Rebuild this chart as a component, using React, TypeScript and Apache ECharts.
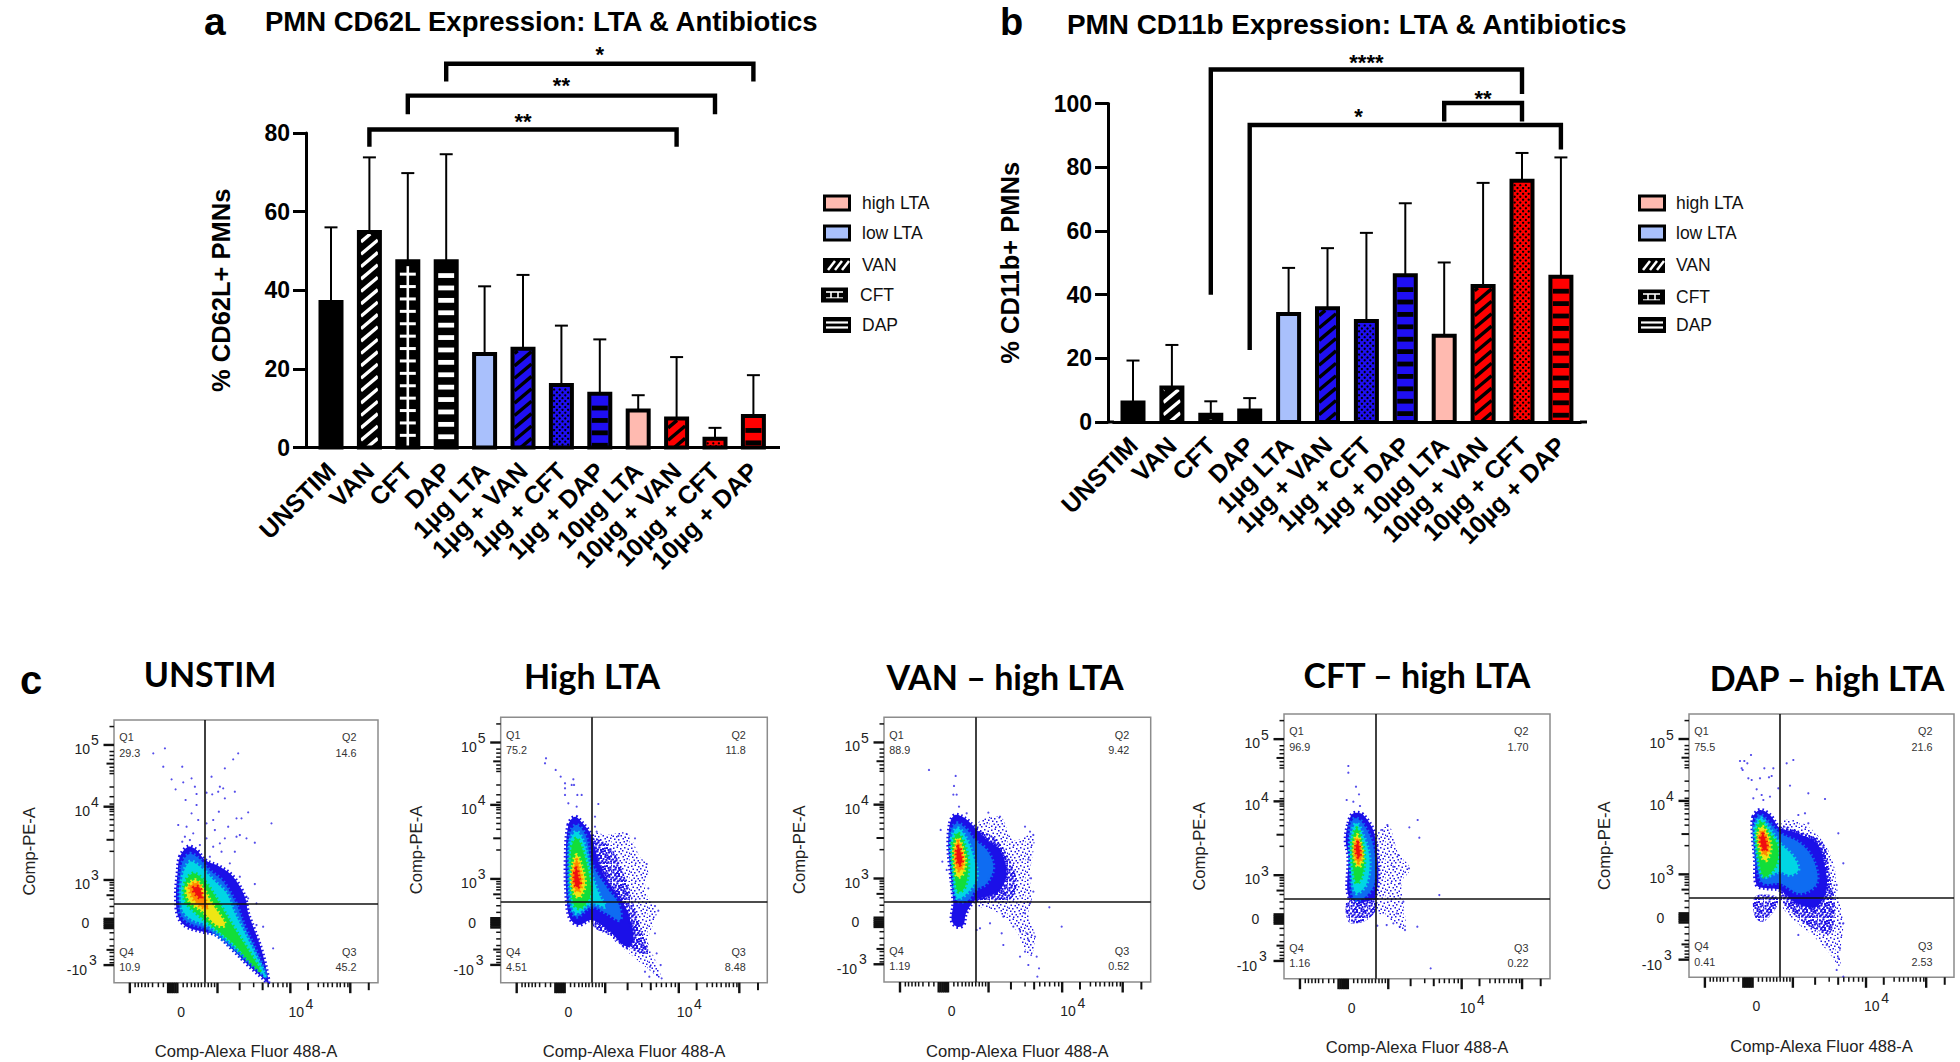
import React, { useEffect, useRef } from "react";
import * as echarts from "echarts";

const FONT = "Liberation Sans";
const HEAD_FONT = "Lato";

const categories = ["UNSTIM", "VAN", "CFT", "DAP", "1µg LTA", "1µg + VAN", "1µg + CFT", "1µg + DAP", "10µg LTA", "10µg + VAN", "10µg + CFT", "10µg + DAP"];
const cd62lMeans = [37, 54.8, 47.4, 47.4, 23.8, 25.1, 15.9, 13.7, 9.4, 7.4, 2.2, 8];
const cd62lErrorTops = [56, 73.8, 69.8, 74.6, 41, 43.9, 31, 27.5, 13.3, 23, 5, 18.4];
const cd11bMeans = [6.1, 10.8, 2.3, 3.6, 33.9, 35.7, 31.7, 46.1, 27.1, 42.7, 75.8, 45.6];
const cd11bErrorTops = [19.3, 24.2, 6.5, 7.5, 48.4, 54.6, 59.4, 68.7, 50.1, 75.1, 84.5, 83.1];
const barFills = ["#000000", "#000000", "#000000", "#000000", "#A9C0FC", "#1F0FF2", "#1F0FF2", "#1F0FF2", "#FFBAB0", "#FF0000", "#FF0000", "#FF0000"];
const barPatterns = ["none", "van", "cft", "dap", "none", "van", "cft", "dap", "none", "van", "cft", "dap"];

// from, to, top, left end, right end, star position, star height, stars
const cd62lBrackets = [
  [1, 9, 80.9, 76.5, 76.5, 5, 82.8, "**"],
  [2, 10, 89.5, 84.8, 84.8, 6, 92, "**"],
  [3, 11, 97.6, 93.1, 93.1, 7, 99.9, "*"],
];
const cd11bBrackets = [
  [2, 10, 110.7, 40, 103, 6, 113, "****"],
  [3, 11, 93.3, 22.6, 85.6, 5.8, 95.9, "*"],
  [8, 10, 100.2, 94.4, 94.4, 9, 101.5, "**"],
];
const legendNames = ["high LTA", "low LTA", "VAN", "CFT", "DAP"];

// Flow panels: channel positions, as [x, y] in the panel's display channels
const flowLevelColors = ["#1B10E8", "#0E6CF2", "#00D6E4", "#12DE3A", "#EEE614", "#FF8A00", "#F01010"];

const panel1Contours: [number, number[][]][] = [
  [0, [[540,620],[565,590],[590,600],[615,630],[660,650],[700,680],[735,740],[745,790],[760,830],[785,900],[800,960],[805,998],[790,985],[745,945],[700,900],[650,855],[610,845],[560,830],[535,800],[528,740],[533,670]]],
  [1, [[544,650],[568,612],[596,625],[628,660],[670,695],[708,760],[735,830],[770,905],[798,978],[770,958],[720,915],[668,868],[615,835],[565,817],[540,785]]],
  [2, [[548,680],[570,635],[600,650],[640,690],[680,730],[700,780],[730,840],[765,910],[795,975],[770,950],[720,905],[670,860],[620,825],[570,805],[545,770]]],
  [3, [[555,700],[580,670],[610,690],[640,730],[670,780],[700,830],[745,900],[780,960],[750,935],[700,880],[640,830],[590,790],[555,750]]],
  [4, [[560,715],[585,690],[610,715],[635,760],[660,795],[675,825],[650,825],[610,785],[570,755]]],
  [5, [[570,710],[595,700],[610,740],[625,770],[605,770],[580,745]]],
  [6, [[580,715],[598,712],[605,745],[590,735]]],
];
const panel1Sparse: number[][][] = [];
const panel1Dense: number[][][] = [];
const panel1Dots = [[460,310],[495,295],[490,350],[547,350],[515,388],[550,397],[575,385],[527,418],[557,450],[590,432],[585,410],[635,380],[620,428],[637,433],[655,425],[660,410],[670,415],[675,445],[700,328],[715,310],[675,355],[705,425],[745,487],[815,520],[710,505],[725,505],[657,485],[640,510],[620,520],[590,465],[595,510],[575,490],[535,525],[560,530],[547,575],[580,550],[620,565],[645,540],[660,580],[675,565],[685,530],[710,560],[720,555],[740,565],[765,578],[705,605],[665,605],[640,590],[720,680],[765,702],[740,740],[770,760],[790,830],[820,895],[770,825],[555,560],[570,570],[600,585],[630,620],[690,640],[745,745],[775,870]];

const panel2Contours: [number, number[][]][] = [
  [0, [[505,375],[525,350],[548,370],[573,405],[600,500],[640,570],[670,610],[690,660],[700,720],[680,740],[625,690],[575,660],[535,675],[510,655],[500,600],[497,480]]],
  [1, [[510,400],[530,375],[558,410],[575,490],[625,570],[655,610],[660,660],[620,640],[575,620],[530,650],[510,620],[505,500]]],
  [2, [[512,420],[530,395],[552,430],[574,520],[600,590],[615,620],[575,610],[530,640],[514,610],[508,500]]],
  [3, [[515,440],[530,415],[548,450],[570,540],[570,590],[540,625],[520,610],[512,520]]],
  [4, [[520,490],[530,465],[542,490],[555,550],[540,590],[525,585],[515,540]]],
  [5, [[522,505],[530,480],[538,505],[545,550],[535,575],[524,565],[518,535]]],
  [6, [[524,520],[530,505],[535,530],[540,550],[532,562],[524,548]]],
];
const panel2Sparse = [[[575,400],[620,405],[680,400],[720,470],[745,500],[735,570],[750,600],[770,640],[745,720],[770,790],[785,840],[760,820],[700,770],[640,720],[575,670],[575,640]]];
const panel2Dense = [[[575,420],[630,440],[670,520],[700,610],[720,680],[745,760],[700,750],[640,710],[575,670]]];
const panel2Dots = [[438,175],[435,190],[467,210],[482,230],[495,250],[495,265],[495,285],[515,255],[520,238],[522,255],[532,285],[545,285],[505,310],[530,320],[595,312],[585,350],[585,380],[590,395],[680,402],[705,415],[655,408],[740,492],[745,565],[765,618],[775,632],[765,700],[770,760],[782,795],[785,835],[772,825],[750,800],[735,815],[748,830]];

const panel3Contours: [number, number[][]][] = [
  [0, [[510,370],[525,345],[555,355],[586,385],[620,420],[660,450],[680,520],[660,570],[620,590],[586,600],[558,640],[550,675],[530,680],[515,660],[520,610],[512,520],[505,440]]],
  [1, [[512,400],[530,370],[556,385],[584,420],[620,450],[640,500],[620,550],[586,570],[565,600],[530,600],[518,530]]],
  [2, [[515,415],[532,385],[556,410],[580,470],[590,530],[565,575],[532,595],[522,540],[514,470]]],
  [3, [[518,430],[533,400],[552,430],[565,490],[555,560],[535,575],[524,530],[517,470]]],
  [4, [[523,445],[534,415],[549,450],[556,490],[546,525],[532,530],[524,490]]],
  [5, [[527,450],[535,425],[545,455],[550,490],[543,510],[533,510],[527,480]]],
  [6, [[530,455],[536,440],[545,470],[546,485],[538,495],[531,480]]],
];
const panel3Sparse = [[[586,380],[660,350],[700,420],[760,405],[750,520],[755,600],[745,640],[765,710],[750,770],[700,680],[640,630],[586,610]]];
const panel3Dense = [[[586,400],[640,410],[690,480],[710,550],[690,600],[640,605],[586,600]]];
const panel3Dots = [[447,210],[527,228],[522,258],[520,284],[530,284],[537,320],[482,390],[487,485],[500,510],[560,340],[625,338],[660,350],[735,380],[750,395],[760,405],[745,478],[753,535],[760,575],[808,622],[845,680],[665,700],[600,685],[590,690],[630,670],[670,735],[720,770],[735,755],[745,795],[770,770],[777,805],[772,830],[740,700],[765,710],[700,680],[720,690],[745,720],[735,640],[750,610],[670,650]];

const panel4Contours: [number, number[][]][] = [
  [0, [[505,520],[520,490],[550,495],[585,560],[585,740],[510,745],[505,620],[497,570]]],
  [1, [[510,530],[525,505],[548,520],[580,590],[583,700],[550,745],[520,745],[512,640]]],
  [2, [[513,560],[528,520],[545,545],[568,620],[560,700],[530,730],[518,700],[510,620]]],
  [3, [[517,570],[530,535],[545,570],[553,630],[545,680],[530,700],[520,660],[515,610]]],
  [4, [[521,590],[531,555],[544,590],[548,625],[538,650],[527,640]]],
  [5, [[524,595],[532,565],[542,595],[545,620],[536,638],[527,625]]],
  [6, [[528,590],[533,578],[539,600],[538,622],[531,615]]],
];
const panel4Sparse = [[[585,570],[625,525],[655,610],[690,655],[665,700],[675,840],[620,800],[585,780]]];
const panel4Dense = [[[505,745],[585,745],[585,785],[550,815],[505,815]]];
const panel4Dots = [[505,348],[505,368],[528,410],[537,433],[500,450],[520,455],[540,468],[622,525],[607,540],[688,532],[713,510],[718,563],[687,655],[778,735],[712,830],[752,955],[675,840],[660,830],[640,820],[620,825],[592,827],[655,615],[640,650],[660,700],[670,755],[650,790]];

const panel5Contours: [number, number[][]][] = [
  [0, [[580,350],[600,330],[630,345],[660,385],[700,395],[770,430],[790,480],[800,560],[770,620],[710,610],[660,570],[620,565],[590,555],[585,480],[578,400]]],
  [1, [[583,370],[600,345],[625,365],[660,400],[720,430],[760,480],[770,550],[720,580],[660,550],[610,550],[595,520],[586,450]]],
  [2, [[585,385],[602,355],[625,380],[660,430],[700,470],[715,510],[690,525],[660,515],[612,530],[597,490]]],
  [3, [[590,390],[604,365],[625,395],[650,430],[655,470],[640,510],[612,530],[597,480]]],
  [4, [[595,400],[607,380],[625,410],[632,445],[620,480],[610,478],[598,440]]],
  [5, [[598,410],[608,392],[622,420],[626,445],[615,465],[603,445]]],
  [6, [[602,415],[609,403],[618,425],[620,445],[612,452],[604,435]]],
];
const panel5Sparse = [[[660,370],[720,365],[785,420],[820,490],[835,590],[850,670],[840,760],[840,800],[800,750],[750,700],[690,650],[660,600]]];
const panel5Dense = [[[660,385],[730,400],[790,430],[810,530],[825,620],[810,700],[770,690],[720,660],[670,610],[660,580]], [[585,590],[650,590],[650,620],[610,665],[585,650]]];
const panel5Dots = [[573,165],[540,183],[553,183],[562,190],[545,205],[548,210],[613,205],[640,205],[627,232],[635,228],[565,235],[575,240],[600,235],[590,268],[605,285],[580,295],[610,300],[630,290],[655,265],[690,257],[680,190],[700,180],[745,280],[795,297],[715,345],[735,340],[745,370],[835,400],[850,490],[830,555],[840,670],[850,670],[840,745],[830,810],[835,775],[850,830],[715,705],[800,735]];

const panelHeadings = ["UNSTIM", "High LTA", "VAN – high LTA", "CFT – high LTA", "DAP – high LTA"];
const panelQuadrants = [
  ["29.3", "14.6", "45.2", "10.9"],
  ["75.2", "11.8", "8.48", "4.51"],
  ["88.9", "9.42", "0.52", "1.19"],
  ["96.9", "1.70", "0.22", "1.16"],
  ["75.5", "21.6", "2.53", "0.41"],
];

// tick positions as fractions of the shared biexponential display, with their lengths
const yTickLong = [0.905, 0.67, 0.391, 0.067, 0.243, 0.236, 0.229, 0.222, 0.215, 0.208];
const yTickMid = [0.834, 0.544, 0.333, 0.125];
const yTickShort = [0.975, 0.88, 0.865, 0.85, 0.82, 0.806, 0.796, 0.745, 0.708, 0.68, 0.66, 0.652, 0.639, 0.621, 0.6, 0.578, 0.5, 0.381, 0.372, 0.36, 0.35, 0.318, 0.29, 0.265, 0.19, 0.165, 0.14, 0.115, 0.1, 0.088, 0.076];
const xTickLong = [0.06, 0.392, 0.668, 0.895, 0.205, 0.212, 0.219, 0.226, 0.233, 0.24];
const xTickMid = [0.476, 0.563, 0.735, 0.965];
const xTickShort = [0.08, 0.092, 0.105, 0.118, 0.13, 0.146, 0.168, 0.187, 0.262, 0.277, 0.293, 0.306, 0.319, 0.331, 0.344, 0.357, 0.369, 0.381, 0.529, 0.584, 0.603, 0.621, 0.64, 0.655, 0.774, 0.794, 0.81, 0.827, 0.845, 0.857, 0.873, 0.886];

const speckleA = [[2,3],[9,1],[16,4],[24,2],[31,5],[5,9],[13,10],[20,8],[28,11],[34,13],[1,15],[8,16],[17,14],[25,17],[32,19],[4,21],[12,22],[21,20],[29,24],[35,26],[7,27],[15,28],[23,26],[2,31],[10,33],[18,32],[27,31],[33,34]];
const speckleB = [[6,5],[12,6],[20,3],[27,6],[34,1],[1,10],[10,13],[16,9],[23,12],[31,9],[5,18],[12,18],[21,16],[28,20],[35,17],[0,25],[8,23],[17,24],[25,22],[32,29],[4,29],[13,31],[21,30],[29,35],[7,35],[16,35],[24,33],[35,31]];

function makeTile(dots: number[][], size: number) {
  const c = document.createElement("canvas");
  c.width = 18; c.height = 18;
  const g = c.getContext("2d")!;
  g.fillStyle = "#2316E6";
  dots.forEach(([x, y]) => g.fillRect(x / 2, y / 2, size, size));
  return c.toDataURL();
}

const renderHatch = (params: any, api: any) => {
  const i = api.value(0);
  const v = api.value(1);
  const top = api.coord([i, v]);
  const base = api.coord([i, 0]);
  const W = 21;
  const x0 = top[0] - W / 2, x1 = top[0] + W / 2;
  const y0 = top[1], y1 = base[1];
  const kind = barPatterns[i];
  const dark = barFills[i] === "#000000";
  const fg = dark ? "#FFFFFF" : "#000000";
  const ch: any[] = [];
  const band = (ya: number, yb: number, xa = x0 + 2.5, xb = x1 - 2.5) => {
    const a = Math.max(ya, y0 + 2), b = Math.min(yb, y1);
    if (b > a) ch.push({ type: "rect", shape: { x: xa, y: a, width: xb - xa, height: b - a }, style: { fill: fg } });
  };
  if (kind === "dap") {
    for (let y = y0 + 12; y < y1; y += 12.4) band(y, y + 4.8);
  } else if (kind === "cft" && dark) {
    for (let y = y0 + 11.5; y < y1; y += 12.4) band(y, y + 3);
    band(y0 + 5, y1, top[0] - 1.3, top[0] + 1.3);
  } else if (kind === "cft") {
    let row = 0;
    for (let y = y0 + 4.5; y < y1 - 1; y += 2.9, row++) {
      for (let x = x0 + 3.2 + (row % 2 ? 2.8 : 0); x < x1 - 2.5; x += 5.6) {
        ch.push({ type: "circle", shape: { cx: x, cy: y, r: 1.15 }, style: { fill: "#000000" } });
      }
    }
  } else if (kind === "van") {
    const slope = 0.84;
    const xa = x0 + 2, xb = x1 - 2;
    for (let c = y1 + 30; c > y0; c -= 12.4) {
      let sx = xa, sy = c, ex = xb, ey = c - slope * (xb - xa);
      if (sy > y1) { sx = xa + (sy - y1) / slope; sy = y1; }
      if (ey < y0 + 2) { ex = xa + (c - y0 - 2) / slope; ey = y0 + 2; }
      if (sx < ex && sy > y0 + 2) {
        ch.push({ type: "line", shape: { x1: sx, y1: sy, x2: ex, y2: ey }, style: { stroke: fg, lineWidth: 3.4 } });
      }
    }
  }
  ch.push({ type: "rect", shape: { x: x0, y: y0, width: W, height: y1 - y0 }, style: { fill: "none", stroke: "#000000", lineWidth: 4 } });
  return { type: "group", children: ch };
};

const renderError = (params: any, api: any) => {
  const i = api.value(0);
  const a = api.coord([i, api.value(1)]);
  const b = api.coord([i, api.value(2)]);
  return {
    type: "group",
    children: [
      { type: "line", shape: { x1: a[0], y1: a[1], x2: b[0], y2: b[1] }, style: { stroke: "#000", lineWidth: 2 } },
      { type: "line", shape: { x1: b[0] - 6.5, y1: b[1], x2: b[0] + 6.5, y2: b[1] }, style: { stroke: "#000", lineWidth: 2 } },
    ],
  };
};

const renderBracket = (params: any, api: any) => {
  const from = api.value(0), to = api.value(1);
  const pLeft = api.coord([from, api.value(3)]);
  const pTopL = api.coord([from, api.value(2)]);
  const pTopR = api.coord([to, api.value(2)]);
  const pRight = api.coord([to, api.value(4)]);
  const step = (pTopR[0] - pTopL[0]) / (to - from);
  const starX = pTopL[0] + (api.value(5) - from) * step;
  const starY = api.coord([from, api.value(6)])[1];
  return {
    type: "group",
    children: [
      { type: "polyline", shape: { points: [pLeft, pTopL, pTopR, pRight] }, style: { fill: "none", stroke: "#000", lineWidth: 4.4, lineJoin: "miter" } },
      { type: "text", x: starX, y: starY, style: { text: api.value(7), fill: "#000", fontFamily: FONT, fontWeight: "bold", fontSize: 22, align: "center", verticalAlign: "middle" } },
    ],
  };
};

function barSet(g: number, means: number[], tops: number[], brackets: any[], name: string) {
  return [
    {
      type: "bar", name, xAxisIndex: g, yAxisIndex: g, barWidth: 21, z: 2,
      data: means.map((v, i) => ({ value: v, itemStyle: { color: barFills[i] } })),
    },
    { type: "custom", name: name + " error", xAxisIndex: g, yAxisIndex: g, z: 1, renderItem: renderError, encode: { x: 0, y: 1 }, data: means.map((v, i) => [i, v, tops[i]]) },
    { type: "custom", name: name + " pattern", xAxisIndex: g, yAxisIndex: g, z: 3, renderItem: renderHatch, encode: { x: 0, y: 1 }, data: means.map((v, i) => [i, v]) },
    { type: "custom", name: name + " brackets", xAxisIndex: g, yAxisIndex: g, z: 4, renderItem: renderBracket, clip: false, encode: { x: 0, y: 2 }, dimensions: ["from", "to", "top", "l", "r", "sx", "sy", { name: "stars", type: "ordinal" }], data: brackets },
  ];
}

function legendGraphics(swatchX: number, textX: number, cftDx: number, ys: number[]) {
  const out: any[] = [];
  const box = (x: number, y: number, w: number, h: number, fill: string, lw = 3) => ({ type: "rect", shape: { x, y, width: w, height: h }, style: { fill, stroke: "#000", lineWidth: lw } });
  const ln = (x1: number, y1: number, x2: number, y2: number, w = 2) => ({ type: "line", shape: { x1, y1, x2, y2 }, style: { stroke: "#fff", lineWidth: w } });
  legendNames.forEach((n, i) => {
    const y = ys[i];
    const sx = swatchX + (i === 3 ? cftDx : 0);
    if (i === 0 || i === 1) out.push(box(sx + 1.5, y - 7, 25, 14, i === 0 ? "#FFBAB0" : "#A9C0FC"));
    if (i === 2) {
      out.push(box(sx + 1, y - 6, 25, 13, "#000", 2));
      [5, 12, 19].forEach((d) => out.push(ln(sx + d, y + 5, sx + d + 7, y - 4, 2.5)));
    }
    if (i === 3) {
      out.push(box(sx + 1, y - 6.5, 25, 13, "#000", 2));
      out.push(ln(sx + 5, y - 3, sx + 22, y - 3, 1.6));
      out.push(ln(sx + 10, y - 3, sx + 10, y + 3, 1.6));
      out.push(ln(sx + 17, y - 3, sx + 17, y + 3, 1.6));
      out.push(ln(sx + 5, y + 2.8, sx + 22, y + 2.8, 1));
    }
    if (i === 4) {
      out.push(box(sx + 1, y - 7, 26, 14, "#000", 2));
      out.push(ln(sx + 3, y - 2.5, sx + 25, y - 2.5, 2.2));
      out.push(ln(sx + 3, y + 2.5, sx + 25, y + 2.5, 2.2));
    }
    out.push({ type: "text", x: textX + (i === 3 ? cftDx : 0), y, style: { text: n, fill: "#111", fontFamily: FONT, fontSize: 17.5, align: "left", verticalAlign: "middle" } });
  });
  return out;
}

type Frame = { L: number; R: number; T: number; B: number; px: number[]; contours: [number, number[][]][]; sparse: number[][][]; dense: number[][][]; dots: number[][]; cross: number[] };

const frames: Frame[] = [
  { L: 342, R: 1135, T: 210, B: 998, px: [114, 378, 720, 982.7], contours: panel1Contours, sparse: panel1Sparse, dense: panel1Dense, dots: panel1Dots, cross: [614, 760] },
  { L: 302, R: 1102, T: 52, B: 848, px: [500.7, 767.3, 717.3, 982.7], contours: panel2Contours, sparse: panel2Sparse, dense: panel2Dense, dots: panel2Dots, cross: [575, 606] },
  { L: 312, R: 1112, T: 52, B: 846, px: [884, 1150.7, 717.3, 982], contours: panel3Contours, sparse: panel3Sparse, dense: panel3Dense, dots: panel3Dots, cross: [586, 604] },
  { L: 312, R: 1110, T: 192, B: 986, px: [1284, 1550, 714, 978.7], contours: panel4Contours, sparse: panel4Sparse, dense: panel4Dense, dots: panel4Dots, cross: [586, 745] },
  { L: 387, R: 1182, T: 42, B: 832, px: [1689, 1954, 714, 977.3], contours: panel5Contours, sparse: panel5Sparse, dense: panel5Dense, dots: panel5Dots, cross: [660, 592] },
];

function buildOption() {
  const tileSparse = makeTile(speckleA, 1.5);
  const tileDense = makeTile([...speckleA, ...speckleB], 2);
  const grid: any[] = [
    { left: 311.8, top: 133, width: 460.8, height: 314.5 },
    { left: 1113.55, top: 103.6, width: 466.8, height: 318.4 },
  ];
  const xCommon = (g: number) => ({
    type: "category", gridIndex: g, data: categories,
    axisLine: { lineStyle: { color: "#000", width: 3 } },
    axisTick: { alignWithLabel: true, length: 14, lineStyle: { color: "#000", width: 3 } },
    axisLabel: { rotate: 45, interval: 0, color: "#000", fontFamily: FONT, fontWeight: "bold", fontSize: 25, margin: 19 },
  });
  const yCommon = (g: number, max: number, name: string, offset: number, gap: number) => ({
    type: "value", gridIndex: g, min: 0, max, interval: 20, offset,
    name, nameLocation: "middle", nameGap: gap, nameRotate: 90,
    nameTextStyle: { color: "#000", fontFamily: FONT, fontWeight: "bold", fontSize: 25.5 },
    splitLine: { show: false },
    axisLine: { show: true, lineStyle: { color: "#000", width: 3 } },
    axisTick: { show: true, length: 13, lineStyle: { color: "#000", width: 3 } },
    axisLabel: { color: "#000", fontFamily: FONT, fontWeight: "bold", fontSize: 23, margin: 16 },
  });
  const xAxis: any[] = [xCommon(0), xCommon(1)];
  const yAxis: any[] = [yCommon(0, 80, "% CD62L+ PMNs", 5.8, 72), yCommon(1, 100, "% CD11b+ PMNs", 5.5, 85)];
  const series: any[] = [
    ...barSet(0, cd62lMeans, cd62lErrorTops, cd62lBrackets, "PMN CD62L"),
    ...barSet(1, cd11bMeans, cd11bErrorTops, cd11bBrackets, "PMN CD11b"),
  ];
  const titleStyle = (fontSize: number, fontFamily = FONT) => ({ fontFamily, fontWeight: "bold", fontSize, color: "#000" });
  const titles: any[] = [
    { text: "a", left: 204, top: 21, padding: 0, textVerticalAlign: "middle", textStyle: titleStyle(39) },
    { text: "PMN CD62L Expression: LTA & Antibiotics", left: 265, top: 21, padding: 0, textVerticalAlign: "middle", textStyle: titleStyle(27.5) },
    { text: "b", left: 1000, top: 22, padding: 0, textVerticalAlign: "middle", textStyle: titleStyle(38) },
    { text: "PMN CD11b Expression: LTA & Antibiotics", left: 1067, top: 24, padding: 0, textVerticalAlign: "middle", textStyle: titleStyle(27.9) },
    { text: "c", left: 20, top: 680, padding: 0, textVerticalAlign: "middle", textStyle: titleStyle(40) },
  ];
  const headingCenters = [[210, 673], [592, 675], [1005, 676], [1417, 674], [1827, 677]];
  panelHeadings.forEach((text, i) => {
    titles.push({ text, left: headingCenters[i][0], top: headingCenters[i][1], padding: 0, textAlign: "center", textVerticalAlign: "middle", textStyle: titleStyle(34, HEAD_FONT) });
  });

  frames.forEach((f, i) => {
    const g = i + 2;
    const W = f.R - f.L, H = f.B - f.T;
    const toCh = (p: number[]) => [p[0] - f.L, f.B - p[1]];
    grid.push({ left: f.px[0], top: f.px[2], width: f.px[1] - f.px[0], height: f.px[3] - f.px[2], show: true, borderColor: "#8C8C8C", borderWidth: 1.5, backgroundColor: "#fff" });
    xAxis.push({
      type: "value", gridIndex: g, min: 0, max: W,
      name: "Comp-Alexa Fluor 488-A", nameLocation: "middle", nameGap: 60.5,
      nameTextStyle: { color: "#222", fontFamily: FONT, fontSize: 16.6 },
      axisLine: { show: false }, axisTick: { show: false }, axisLabel: { show: false }, splitLine: { show: false },
    });
    yAxis.push({
      type: "value", gridIndex: g, min: 0, max: H,
      name: "Comp-PE-A", nameLocation: "middle", nameGap: 76, nameRotate: 90,
      nameTextStyle: { color: "#222", fontFamily: FONT, fontSize: 16.6 },
      axisLine: { show: false }, axisTick: { show: false }, axisLabel: { show: false }, splitLine: { show: false },
    });
    const polys: any[] = [
      ...f.sparse.map((pts) => ({ fill: { image: tileSparse, repeat: "repeat", imageWidth: 18, imageHeight: 18 }, pts })),
      ...f.dense.map((pts) => ({ fill: { image: tileDense, repeat: "repeat", imageWidth: 18, imageHeight: 18 }, pts })),
      ...f.contours.map(([lvl, pts]) => ({ fill: flowLevelColors[lvl], pts, stroke: flowLevelColors[lvl] })),
    ];
    series.push({
      type: "custom", name: panelHeadings[i] + " density", xAxisIndex: g, yAxisIndex: g, z: 2,
      encode: { x: 0, y: 1 },
      data: polys.map((_, k) => [k, k]),
      renderItem: (params: any, api: any) => {
        const poly = polys[params.dataIndex];
        const points = poly.pts.map((p: number[]) => api.coord(toCh(p)));
        return {
          type: "polygon",
          shape: { points, smooth: 0.35 },
          style: poly.stroke ? { fill: poly.fill, stroke: poly.stroke, lineWidth: 4, lineDash: [1.5, 2.5] } : { fill: poly.fill },
        };
      },
    });
    series.push({
      type: "scatter", name: panelHeadings[i] + " events", xAxisIndex: g, yAxisIndex: g, z: 3,
      symbolSize: 2.2, itemStyle: { color: "#2A20E6" },
      data: f.dots.map(toCh),
      markLine: {
        silent: true, symbol: "none", label: { show: false }, z: 4,
        lineStyle: { color: "#111", width: 1.6, type: "solid" },
        data: [{ xAxis: f.cross[0] - f.L }, { yAxis: f.B - f.cross[1] }],
      },
    });
    const q = panelQuadrants[i];
    series.push({
      type: "custom", name: panelHeadings[i] + " axes", xAxisIndex: g, yAxisIndex: g, z: 5, clip: false,
      encode: { x: 0, y: 1 }, data: [[0, 0]],
      renderItem: (params: any, api: any) => {
        const [l, b] = api.coord([0, 0]);
        const [r, t] = api.coord([W, H]);
        const ch: any[] = [];
        const tw = r - l, th = b - t;
        const yt = (arr: number[], len: number, lw: number) => arr.forEach((v) => ch.push({ type: "line", shape: { x1: l - len, y1: b - v * th, x2: l, y2: b - v * th }, style: { stroke: "#111", lineWidth: lw } }));
        const xt = (arr: number[], len: number, lw: number) => arr.forEach((v) => ch.push({ type: "line", shape: { x1: l + v * tw, y1: b, x2: l + v * tw, y2: b + len }, style: { stroke: "#111", lineWidth: lw } }));
        yt(yTickLong, 10.5, 2.4); yt(yTickMid, 7.5, 2); yt(yTickShort, 4.5, 1.5);
        xt(xTickLong, 10.5, 2.4); xt(xTickMid, 7.5, 2); xt(xTickShort, 4.5, 1.5);
        const txt = (text: string, x: number, y: number, align: string, size = 14, fill = "#222") => ch.push({ type: "text", x, y, style: { text, fill, fontFamily: FONT, fontSize: size, align, verticalAlign: "middle" } });
        [[0.905, "5"], [0.67, "4"], [0.391, "3"]].forEach(([v, s]: any) => {
          txt("10", l - 24, b - v * th + 4, "right");
          txt(s, l - 23, b - v * th - 4.5, "left");
        });
        txt("-10", l - 27, b - 0.067 * th + 5, "right");
        txt("3", l - 25, b - 0.067 * th - 5, "left");
        txt("0", l - 28.5, b - 0.226 * th, "center");
        txt("0", l + 0.254 * tw, b + 29, "center");
        txt("10", l + 0.69 * tw, b + 29, "center");
        txt("4", l + 0.74 * tw, b + 21, "center");
        const qLeft = l + 5.3, qRight = r - 21.5;
        const s = 10.8, c = "#333";
        txt("Q1", qLeft, t + 17.3, "left", s, c); txt(q[0], qLeft, t + 32.7, "left", s, c);
        txt("Q2", qRight, t + 17.3, "right", s, c); txt(q[1], qRight, t + 32.7, "right", s, c);
        txt("Q4", qLeft, b - 31, "left", s, c); txt(q[3], qLeft, b - 15.7, "left", s, c);
        txt("Q3", qRight, b - 31, "right", s, c); txt(q[2], qRight, b - 15.7, "right", s, c);
        return { type: "group", children: ch };
      },
    });
  });

  const axisExt = (x1: number, x2: number, y: number) => ({ type: "line", shape: { x1, y1: y, x2, y2: y }, style: { stroke: "#000", lineWidth: 3 } });
  const graphic = [
    axisExt(305, 312, 447.5), axisExt(772, 780, 447.5),
    axisExt(1107, 1114, 422), axisExt(1580, 1587, 422),
    ...legendGraphics(823, 862, -2, [203, 233, 265, 295, 325]),
    ...legendGraphics(1638, 1676, 0, [203, 233, 265, 297, 325]),
  ];
  return { animation: false, backgroundColor: "#fff", title: titles, grid, xAxis, yAxis, series, graphic: { elements: graphic } };
}

export default function App() {
  const ref = useRef<HTMLDivElement>(null);
  useEffect(() => {
    const chart = echarts.init(ref.current!, undefined, { renderer: "svg" });
    chart.setOption(buildOption() as any);
    return () => chart.dispose();
  }, []);
  return <div ref={ref} style={{ position: "absolute", left: 0, top: 0, width: 1960, height: 1062 }} />;
}
